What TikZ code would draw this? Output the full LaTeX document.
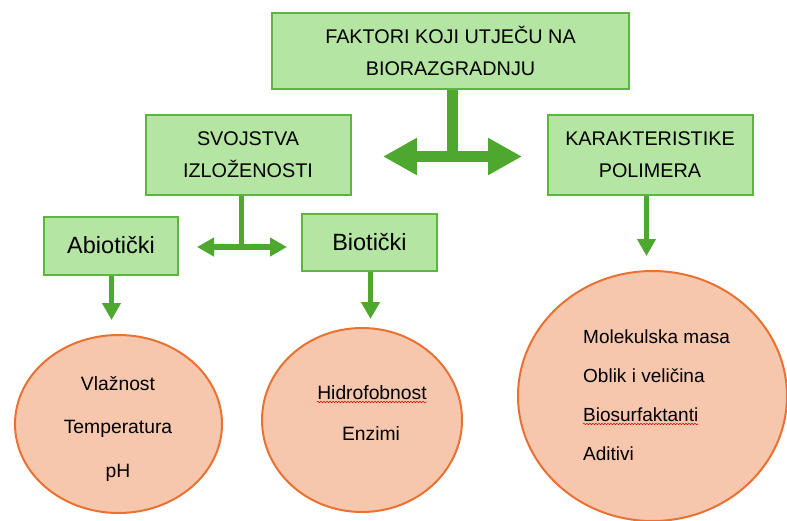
\documentclass[tikz,border=0pt]{standalone}
\usepackage{fontspec}
\setmainfont{Liberation Sans}
\usetikzlibrary{arrows.meta,shapes.geometric,decorations.pathmorphing,calc}
\definecolor{boxfill}{HTML}{B4E5A2}
\definecolor{boxline}{HTML}{5DB43F}
\definecolor{arrowgreen}{HTML}{4EA72E}
\definecolor{ellfill}{HTML}{F6C6AD}
\definecolor{ellline}{HTML}{E97132}
\tikzset{
  gbox/.style={draw=boxline, fill=boxfill, line width=2pt, rectangle, inner sep=0pt, align=center},
  pell/.style={draw=ellline, fill=ellfill, line width=2pt, ellipse, inner sep=0pt},
  bigtxt/.style={font=\fontsize{19.8}{32}\selectfont},
  midtxt/.style={font=\fontsize{23.5}{26}\selectfont},
  eltxt/.style={font=\fontsize{19.3}{22}\selectfont, inner sep=0pt, anchor=base},
  eltxtl/.style={font=\fontsize{19}{22}\selectfont, inner sep=0pt, anchor=base west},
  bigarrow/.style={draw=arrowgreen, line width=11pt, {Triangle[length=34pt,width=35pt]}-{Triangle[length=34pt,width=35pt]}},
  stemthick/.style={draw=arrowgreen, line width=11pt},
  smallarrow/.style={draw=arrowgreen, line width=6pt, {Triangle[length=17pt,width=18pt]}-{Triangle[length=17pt,width=18pt]}},
  stemthin/.style={draw=arrowgreen, line width=5pt},
  downarrow/.style={draw=arrowgreen, line width=5pt, -{Triangle[length=17pt,width=18pt]}},
  squig/.style={draw=red!85!black, line width=0.5pt, decorate, decoration={snake, amplitude=0.7pt, segment length=3pt}},
}
\begin{document}
\begin{tikzpicture}[x=1pt,y=-1pt]
\useasboundingbox (0,0) rectangle (787,520);
% boxes
\node[gbox, bigtxt, minimum width=357pt, minimum height=76pt] (top) at (450.5,51) {FAKTORI KOJI UTJEČU NA\\BIORAZGRADNJU};
\node[gbox, bigtxt, minimum width=205pt, minimum height=80pt] (svo) at (248,155) {SVOJSTVA\\IZLOŽENOSTI};
\node[gbox, bigtxt, minimum width=205pt, minimum height=80pt] (kar) at (650,155) {KARAKTERISTIKE\\POLIMERA};
\node[gbox, midtxt, minimum width=134pt, minimum height=58pt] (abio) at (111,245.5) {Abiotički};
\node[gbox, midtxt, minimum width=135pt, minimum height=57pt] (bio) at (369.5,242.5) {Biotički};
% ellipses
\node[pell, minimum width=207pt, minimum height=178pt] (e1) at (118.5,424) {};
\node[pell, minimum width=200pt, minimum height=184pt] (e2) at (362,420) {};
\node[pell, minimum width=269pt, minimum height=250pt] (e3) at (652.5,396) {};
% ellipse texts
\node[eltxt] (t11) at (118,390) {Vlažnost};
\node[eltxt] (t12) at (118,433) {Temperatura};
\node[eltxt] (t13) at (118,477) {pH};
\node[eltxt] (t21) at (372,399) {Hidrofobnost};
\node[eltxt] (t22) at (371,440) {Enzimi};
\node[eltxtl] (t31) at (583,343) {Molekulska masa};
\node[eltxtl] (t32) at (583,382) {Oblik i veličina};
\node[eltxtl] (t33) at (583,421) {Biosurfaktanti};
\node[eltxtl] (t34) at (583,460) {Aditivi};
\draw[squig] ([yshift=-3pt]t21.base west) -- ([yshift=-3pt]t21.base east);
\draw[squig] ([yshift=-3pt]t33.base west) -- ([yshift=-3pt]t33.base east);
% connectors
\coordinate (hub1) at (452.5,156.5);
\coordinate (l1) at (383,156.5);
\coordinate (r1) at (522,156.5);
\draw[stemthick] (hub1 |- top.south) -- (hub1);
\draw[bigarrow] (l1) -- (r1);
\coordinate (hub2) at (241.5,247);
\coordinate (l2) at (197,247);
\coordinate (r2) at (287,247);
\draw[stemthin] (hub2 |- svo.south) -- (hub2);
\draw[smallarrow] (l2) -- (r2);
\coordinate (d1) at (111.5,320);
\coordinate (d2) at (370.5,319);
\coordinate (d3) at (646.5,256);
\draw[downarrow] (d1 |- abio.south) -- (d1);
\draw[downarrow] (d2 |- bio.south) -- (d2);
\draw[downarrow] (d3 |- kar.south) -- (d3);
\end{tikzpicture}
\end{document}
